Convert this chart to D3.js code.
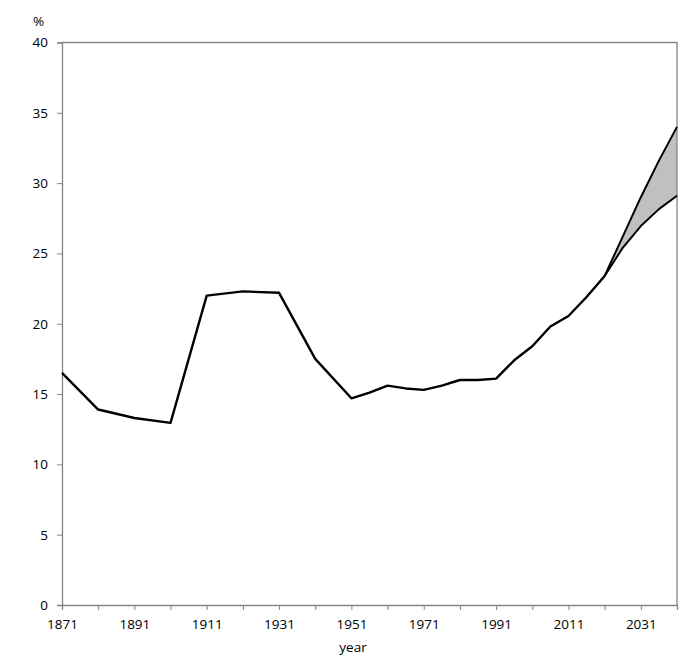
<!DOCTYPE html>
<html><head><meta charset="utf-8">
<script src="https://cdn.jsdelivr.net/npm/d3@7"></script>
<style>body{margin:0;background:#fff}svg{display:block}text{font-family:"Open Sans","Liberation Sans",sans-serif;font-size:13.5px;fill:#000}</style>
</head><body>
<script>
const years = [1871,1881,1891,1901,1911,1921,1931,1941,1951,1956,1961,1966,1971,1976,1981,1986,1991,1996,2001,2006,2011,2016,2021];
const values = [16.5,13.9,13.3,12.95,22.0,22.3,22.2,17.5,14.7,15.1,15.6,15.4,15.3,15.6,16.0,16.0,16.1,17.4,18.4,19.8,20.55,21.9,23.4];
const projYears = [2021,2026,2031,2036,2041];
const projHigh = [23.4,26.2,29.0,31.6,34.0];
const projLow = [23.4,25.4,26.95,28.15,29.1];
const xTickLabels = [1871,1891,1911,1931,1951,1971,1991,2011,2031];
const yTicks = [0,5,10,15,20,25,30,35,40];

const W=699,H=665, L=62, R=677, T=42.5, B=605;
const svg=d3.select("body").append("svg").attr("width",W).attr("height",H);
const x=d3.scaleLinear().domain([1871,2041]).range([L,R]);
const y=d3.scaleLinear().domain([0,40]).range([B,T]);
const axisCol="#868686";

// area band
const band=projYears.map((yr,i)=>({yr,hi:projHigh[i],lo:projLow[i]}));
svg.append("path").datum(band)
  .attr("d",d3.area().x(d=>x(d.yr)).y0(d=>y(d.lo)).y1(d=>y(d.hi)))
  .attr("fill","#c0c0c0");

// frame
svg.append("path").attr("d",`M${L},${T}H${R}V${B}`).attr("fill","none").attr("stroke",axisCol).attr("stroke-width",1.3);

// y axis
const ya=svg.append("g").attr("transform",`translate(${L},0)`)
  .call(d3.axisLeft(y).tickValues(yTicks).tickSize(5).tickPadding(9).tickFormat(d3.format("d")));
ya.select(".domain").attr("stroke",axisCol).attr("stroke-width",1.3);
ya.selectAll(".tick line").attr("stroke",axisCol);
ya.selectAll("text").style("font-size","13.5px").attr("fill","#000");

// x axis
const allTicks=d3.range(1871,2042,10);
const xa=svg.append("g").attr("transform",`translate(0,${B})`)
  .call(d3.axisBottom(x).tickValues(allTicks).tickSize(5).tickPadding(9)
    .tickFormat(d=>xTickLabels.includes(d)?d:""));
xa.select(".domain").attr("stroke",axisCol).attr("stroke-width",1.3);
xa.selectAll(".tick line").attr("stroke",axisCol);
xa.selectAll("text").style("font-size","13.5px").attr("fill","#000");

// lines
const line=d3.line().x(d=>x(d[0])).y(d=>y(d[1]));
svg.append("path").datum(years.map((yr,i)=>[yr,values[i]]))
  .attr("d",line).attr("fill","none").attr("stroke","#000").attr("stroke-width",2.4).attr("stroke-linejoin","round");
svg.append("path").datum(projYears.map((yr,i)=>[yr,projHigh[i]]))
  .attr("d",line).attr("fill","none").attr("stroke","#000").attr("stroke-width",2).attr("stroke-linejoin","round");
svg.append("path").datum(projYears.map((yr,i)=>[yr,projLow[i]]))
  .attr("d",line).attr("fill","none").attr("stroke","#000").attr("stroke-width",2).attr("stroke-linejoin","round");

// labels
svg.append("text").attr("x",33).attr("y",26).text("%");
svg.append("text").attr("x",353).attr("y",652).attr("text-anchor","middle").text("year");
</script>
</body></html>
